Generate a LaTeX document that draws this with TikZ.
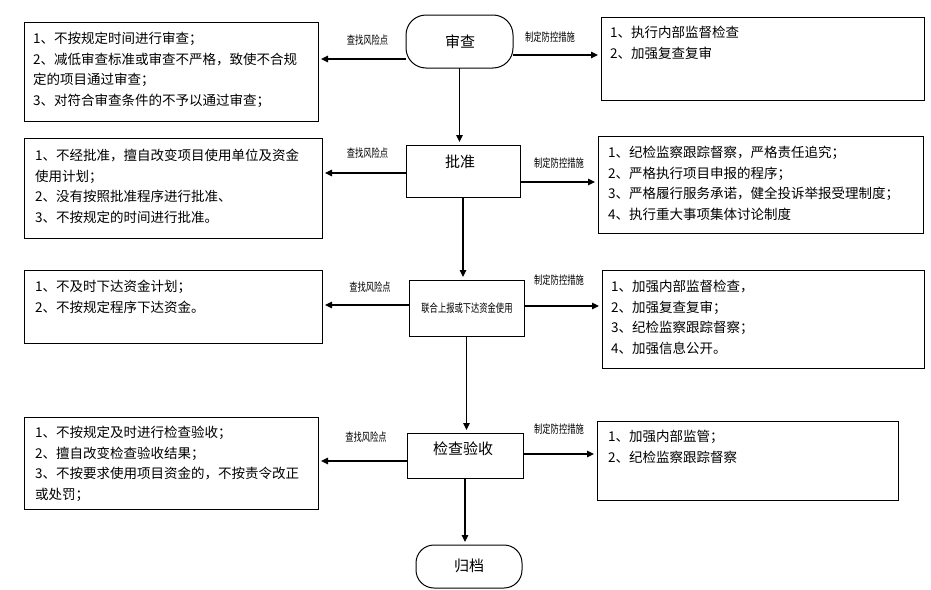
\documentclass[tikz,border=0pt]{standalone}
\usepackage{fontspec}
\newfontfamily\cjk{Noto Sans CJK SC}
\usetikzlibrary{arrows.meta}
\begin{document}
\begin{tikzpicture}[x=1pt,y=-1pt,
  box/.style={draw, line width=1pt, inner sep=0pt, outer sep=0pt},
  stadium/.style={box, rounded corners=20pt},
  txt/.style={anchor=north west, align=left, inner sep=0pt, font={\cjk\fontsize{13.5}{20.5}\selectfont}},
  ctxt/.style={inner sep=0pt, font={\cjk\fontsize{15}{16}\selectfont}},
  lbl/.style={inner sep=0pt, font={\cjk\fontsize{11.5}{12}\selectfont}},
  arr/.style={-{Triangle[length=7pt,width=6.5pt]}, line width=1.1pt, shorten >=3pt}]
\useasboundingbox (0,0) rectangle (931,589);
% center chain
\node[stadium, minimum width=107pt, minimum height=53pt] (C1) at (459.5,41.5) {};
\node[ctxt] (C1t) at (460,42) {审查};
\node[box, minimum width=114pt, minimum height=52pt] (C2) at (463,171) {};
\node[ctxt] (C2t) at (460,162) {批准};
\node[box, minimum width=115pt, minimum height=56pt] (C3) at (466.5,308) {};
\node[lbl] (C3t) at (467,308) {\scalebox{0.72}[1]{联合上报或下达资金使用}};
\node[box, minimum width=116pt, minimum height=45pt] (C4) at (465,455.5) {};
\node[ctxt] (C4t) at (463,449) {检查验收};
\node[stadium, rounded corners=18pt, minimum width=106pt, minimum height=43pt] (C5) at (469,566.5) {};
\node[ctxt] (C5t) at (469,566) {归档};
% left boxes
\node[box, minimum width=294pt, minimum height=99pt] (L1) at (171,71.5) {};
\node[txt] (L1t) at ([xshift=9pt,yshift=-10pt]L1.north west) {1、不按规定时间进行审查；\\2、减低审查标准或审查不严格，致使不合规\\定的项目通过审查；\\3、对符合审查条件的不予以通过审查；};
\node[box, minimum width=298pt, minimum height=100pt] (L2) at (173,188) {};
\node[txt] (L2t) at ([xshift=11pt,yshift=-11pt]L2.north west) {1、不经批准，擅自改变项目使用单位及资金\\使用计划；\\2、没有按照批准程序进行批准、\\3、不按规定的时间进行批准。};
\node[box, minimum width=298pt, minimum height=73pt] (L3) at (173,306.5) {};
\node[txt] (L3t) at ([xshift=11pt,yshift=-10pt]L3.north west) {1、不及时下达资金计划；\\2、不按规定程序下达资金。};
\node[box, minimum width=294pt, minimum height=92pt] (L4) at (171,463) {};
\node[txt] (L4t) at ([xshift=11pt,yshift=-9pt]L4.north west) {1、不按规定及时进行检查验收；\\2、擅自改变检查验收结果；\\3、不按要求使用项目资金的，不按责令改正\\或处罚；};
% right boxes
\node[box, minimum width=323pt, minimum height=83pt] (R1) at (762.5,58.5) {};
\node[txt] (R1t) at ([xshift=9pt,yshift=-9pt]R1.north west) {1、执行内部监督检查\\2、加强复查复审};
\node[box, minimum width=325pt, minimum height=97pt] (R2) at (760.5,184.5) {};
\node[txt] (R2t) at ([xshift=10pt,yshift=-10pt]R2.north west) {1、纪检监察跟踪督察，严格责任追究；\\2、严格执行项目申报的程序；\\3、严格履行服务承诺，健全投诉举报受理制度；\\4、执行重大事项集体讨论制度};
\node[box, minimum width=322pt, minimum height=98pt] (R3) at (763,319) {};
\node[txt] (R3t) at ([xshift=9pt,yshift=-10pt]R3.north west) {1、加强内部监督检查，\\2、加强复查复审；\\3、纪检监察跟踪督察；\\4、加强信息公开。};
\node[box, minimum width=301pt, minimum height=79pt] (R4) at (747.5,460.5) {};
\node[txt] (R4t) at ([xshift=11pt,yshift=-9pt]R4.north west) {1、加强内部监管；\\2、纪检监察跟踪督察};
% vertical arrows
\draw[arr] (C1.south) -- (C1.south |- C2.north);
\draw[arr] (C2.south) -- (C2.south |- C3.north);
\draw[arr] (C3.south) -- (C3.south |- C4.north);
\draw[arr] (C4.south) -- (C4.south |- C5.north);
% horizontal arrows
\draw[arr] ([yshift=-17.5pt]C1.west) -- ([yshift=-17.5pt]C1.west -| L1.east);
\draw[arr] ([yshift=-13.5pt]C1.east) -- ([yshift=-13.5pt]C1.east -| R1.west);
\draw[arr] ([yshift=-2pt]C2.west) -- ([yshift=-2pt]C2.west -| L2.east);
\draw[arr] ([yshift=-11pt]C2.east) -- ([yshift=-11pt]C2.east -| R2.west);
\draw[arr] ([yshift=3pt]C3.west) -- ([yshift=3pt]C3.west -| L3.east);
\draw[arr] ([yshift=2pt]C3.east) -- ([yshift=2pt]C3.east -| R3.west);
\draw[arr] ([yshift=-5.5pt]C4.west) -- ([yshift=-5.5pt]C4.west -| L4.east);
\draw[arr] ([yshift=1.5pt]C4.east) -- ([yshift=1.5pt]C4.east -| R4.west);
% arrow labels
\node[lbl] (a1) at (367.5,40) {\scalebox{0.72}[1]{查找风险点}};
\node[lbl] (b1) at (550,37) {\scalebox{0.72}[1]{制定防控措施}};
\node[lbl] (a2) at (367.5,153) {\scalebox{0.72}[1]{查找风险点}};
\node[lbl] (b2) at (559,163) {\scalebox{0.72}[1]{制定防控措施}};
\node[lbl] (a3) at (370,287) {\scalebox{0.72}[1]{查找风险点}};
\node[lbl] (b3) at (559,280) {\scalebox{0.72}[1]{制定防控措施}};
\node[lbl] (a4) at (366,437) {\scalebox{0.72}[1]{查找风险点}};
\node[lbl] (b4) at (559,429) {\scalebox{0.72}[1]{制定防控措施}};
\end{tikzpicture}
\end{document}
